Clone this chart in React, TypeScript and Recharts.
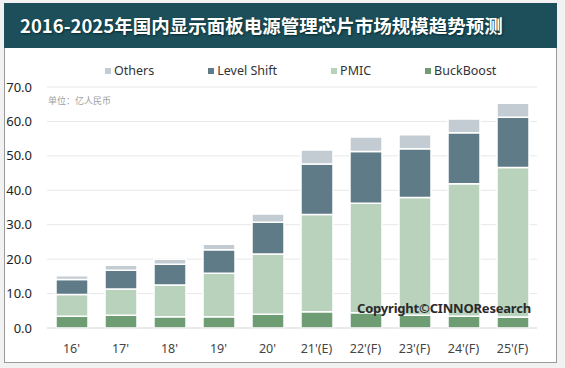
import { BarChart, Bar, XAxis, YAxis, CartesianGrid } from "recharts"

const years = ["16'", "17'", "18'", "19'", "20'", "21'(E)", "22'(F)", "23'(F)", "24'(F)", "25'(F)"]
const buckBoost = [3.4, 3.7, 3.3, 3.3, 4.0, 4.7, 4.4, 3.7, 3.4, 3.2]
const pmic = [6.3, 7.6, 9.2, 12.6, 17.5, 28.3, 31.8, 34.2, 38.5, 43.4]
const levelShift = [4.4, 5.5, 6.0, 6.8, 9.2, 14.6, 15.1, 14.2, 14.8, 14.6]
const others = [1.1, 1.4, 1.5, 1.6, 2.4, 4.1, 4.2, 4.0, 4.0, 4.1]
const yTicks = [0, 10, 20, 30, 40, 50, 60, 70]

const data = years.map((year, i) => ({
  year,
  BuckBoost: buckBoost[i],
  PMIC: pmic[i],
  "Level Shift": levelShift[i],
  Others: others[i],
}))

const series = [
  { key: "BuckBoost", color: "#6e9d74" },
  { key: "PMIC", color: "#b9d2bc" },
  { key: "Level Shift", color: "#5f7b88" },
  { key: "Others", color: "#c4ccd3" },
]

const font = "'Noto Sans', 'Noto Sans CJK SC', sans-serif"

// legend drawn as html, order reversed like the original
function LegendRow() {
  const items = [...series].reverse()
  return (
    <div
      style={{
        position: "absolute",
        left: 105,
        top: 62,
        display: "flex",
        gap: 54,
        fontFamily: font,
        fontSize: 12.5,
        color: "#333",
        whiteSpace: "nowrap",
      }}
    >
      {items.map((s) => (
        <div key={s.key} style={{ display: "flex", alignItems: "center" }}>
          <span style={{ width: 6, height: 6, background: s.color, marginRight: 3 }} />
          {s.key}
        </div>
      ))}
    </div>
  )
}

export default function App() {
  return (
    <div style={{ position: "absolute", left: 0, top: 0, width: 565, height: 368, background: "#f2f2f2", overflow: "hidden" }}>
      <div
        style={{
          position: "absolute",
          left: 4,
          top: 3,
          width: 551,
          height: 358,
          background: "#fff",
          border: "1px solid #9a9a9a",
        }}
      />
      <div
        style={{
          position: "absolute",
          left: 4,
          top: 3,
          width: 553,
          height: 45,
          background: "#1c4f5a",
          color: "#fff",
          fontFamily: "'Noto Sans CJK SC', sans-serif",
          fontWeight: 700,
          fontSize: 18.5,
          lineHeight: "45px",
          paddingLeft: 16,
          boxSizing: "border-box",
          textShadow: "1px 1px 2px #0a2a30",
          whiteSpace: "nowrap",
        }}
      >
        2016-2025年国内显示面板电源管理芯片市场规模趋势预测
      </div>
      <div style={{ position: "absolute", left: 0, top: 0 }}>
        <BarChart width={565} height={368} data={data} margin={{ top: 87, right: 28, bottom: 10, left: 0 }} barSize={32}>
          <CartesianGrid vertical={false} stroke="#e8e8e8" />
          <XAxis
            dataKey="year"
            axisLine={{ stroke: "#e0e0e0" }}
            tickLine={false}
            height={30}
            tickMargin={10}
            tick={{ fill: "#444", fontSize: 12.5, fontFamily: font }}
            interval={0}
          />
          <YAxis
            width={47}
            domain={[0, 70]}
            ticks={yTicks}
            axisLine={false}
            tickLine={false}
            tickMargin={9}
            tickFormatter={(v: number) => v.toFixed(1)}
            tick={{ fill: "#222", fontSize: 13, fontFamily: font }}
          />
          {series.map((s) => (
            <Bar
              key={s.key}
              dataKey={s.key}
              stackId="a"
              fill={s.color}
              stroke="#fff"
              strokeWidth={1.5}
              isAnimationActive={false}
            />
          ))}
        </BarChart>
      </div>
      <LegendRow />
      <div
        style={{
          position: "absolute",
          left: 48,
          top: 94,
          fontSize: 9,
          color: "#a0a0a0",
          fontFamily: "'Noto Sans CJK SC', serif",
        }}
      >
        单位：亿人民币
      </div>
      <div
        style={{
          position: "absolute",
          left: 357,
          top: 299,
          fontSize: 13,
          fontWeight: 700,
          color: "#2a2a2a",
          fontFamily: font,
          letterSpacing: -0.2,
          whiteSpace: "nowrap",
        }}
      >
        Copyright©CINNOResearch
      </div>
    </div>
  )
}
